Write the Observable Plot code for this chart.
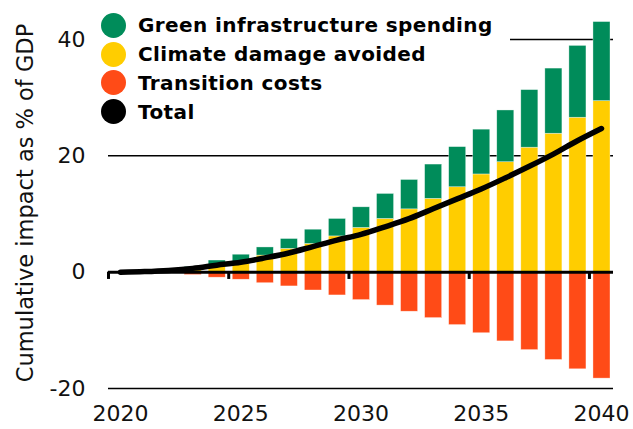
<!DOCTYPE html>
<html>
<head>
<meta charset="utf-8">
<script src="https://cdn.jsdelivr.net/npm/d3@7"></script>
<script src="https://cdn.jsdelivr.net/npm/@observablehq/plot@0.6"></script>
<style>
  body { margin: 0; background: #fff; }
  #wrap { position: relative; width: 633px; height: 429px; }
  #legend { position: absolute; left: 96px; top: 11px; width: 414px; height: 58px; background: #fff; padding-left: 5px; box-sizing: border-box;
    font-family: "DejaVu Sans", sans-serif; font-weight: 700; font-size: 20px; letter-spacing: 0.4px; color: #000; }
  .row { display: flex; align-items: center; height: 28.8px; white-space: nowrap; }
  .sw { width: 25px; height: 25px; border-radius: 50%; margin-right: 12px; flex: none; }
</style>
</head>
<body>
<div id="wrap">
  <div id="chart"></div>
  <div id="legend"></div>
</div>
<script>
// ---- data (cumulative impact, % of GDP) ----
const years = [2020, 2021, 2022, 2023, 2024, 2025, 2026, 2027, 2028, 2029, 2030,
               2031, 2032, 2033, 2034, 2035, 2036, 2037, 2038, 2039, 2040];
const climateDamageAvoided = [0, 0.05, 0.2, 0.5, 1.0, 1.5, 2.85, 4.0, 4.85, 6.15, 7.6,
                              9.15, 10.8, 12.6, 14.6, 16.8, 18.9, 21.4, 23.8, 26.55, 29.4];
const greenInfrastructure = [0, 0.05, 0.2, 0.4, 1.0, 1.5, 1.4, 1.7, 2.45, 3.0, 3.55,
                             4.3, 5.05, 5.9, 6.9, 7.7, 8.9, 9.9, 11.2, 12.35, 13.6];
const transitionCosts = [0, -0.05, -0.2, -0.5, -0.95, -1.3, -1.9, -2.45, -3.15, -4.0, -4.8,
                         -5.75, -6.8, -7.9, -9.1, -10.5, -11.9, -13.4, -15.1, -16.7, -18.3];
const total = [0, 0.1, 0.3, 0.65, 1.2, 1.7, 2.45, 3.3, 4.4, 5.5, 6.5,
               7.8, 9.2, 10.9, 12.6, 14.3, 16.2, 18.2, 20.3, 22.6, 24.7];

const seriesNames = ["Green infrastructure spending", "Climate damage avoided", "Transition costs", "Total"];
const seriesColors = ["#008c5a", "#ffcd00", "#ff4b17", "#000000"];
const yTicks = [-20, 0, 20, 40];
const gridValues = [-20, 20, 40];
const xTickYears = [2020, 2025, 2030, 2035, 2040];
const yTitle = "Cumulative impact as % of GDP";

// ---- tables built from the arrays ----
const bars = [];
years.forEach((yr, i) => {
  bars.push({year: yr, series: seriesNames[1], value: climateDamageAvoided[i]});
  bars.push({year: yr, series: seriesNames[0], value: greenInfrastructure[i]});
  bars.push({year: yr, series: seriesNames[2], value: transitionCosts[i]});
});
const totalLine = years.map((yr, i) => ({year: yr, value: total[i]}));

const axisFont = "DejaVu Sans, sans-serif";

const chart = Plot.plot({
  width: 633,
  height: 429,
  marginLeft: 108,
  marginRight: 20,
  marginTop: 39,
  marginBottom: 41,
  style: {fontFamily: axisFont, background: "#fff", overflow: "visible"},
  x: {domain: [2020, 2041], axis: null},
  y: {domain: [-20, 40], axis: null},
  color: {domain: seriesNames, range: seriesColors},
  marks: [
    Plot.ruleY(gridValues, {stroke: "#000", strokeWidth: 1.5}),
    Plot.rectY(bars, {
      x: "year", interval: 1, y: "value", fill: "series",
      insetLeft: 4, insetRight: 3, stroke: "#fff", strokeWidth: 0.6, strokeOpacity: 0.6
    }),
    Plot.ruleY([0], {stroke: "#000", strokeWidth: 3}),
    Plot.ruleX(xTickYears, {y1: 0, y2: -1.25, stroke: "#000", strokeWidth: 3}),
    Plot.line(totalLine, {
      x: d => d.year + 0.5, y: "value", curve: "catmull-rom",
      stroke: "#000", strokeWidth: 5.5, strokeLinecap: "round"
    }),
    Plot.axisY(yTicks, {
      tickSize: 0, tickPadding: 23, fontSize: 22, tickFormat: d => String(d),
      label: null, fill: "#111"
    }),
    Plot.text(xTickYears, {
      x: d => d + 0.5, text: d => String(d), frameAnchor: "bottom", dy: 32,
      fontSize: 22, fill: "#111"
    }),
    Plot.text([yTitle], {
      frameAnchor: "left", textAnchor: "middle", rotate: -90, dx: -83, dy: -11, fontSize: 22.5, fill: "#111"
    })
  ]
});
document.getElementById("chart").appendChild(chart);

// ---- legend ----
const legend = document.getElementById("legend");
seriesNames.forEach((name, i) => {
  const row = document.createElement("div");
  row.className = "row";
  const sw = document.createElement("span");
  sw.className = "sw";
  sw.style.background = seriesColors[i];
  const label = document.createElement("span");
  label.textContent = name;
  row.appendChild(sw);
  row.appendChild(label);
  legend.appendChild(row);
});
</script>
</body>
</html>
